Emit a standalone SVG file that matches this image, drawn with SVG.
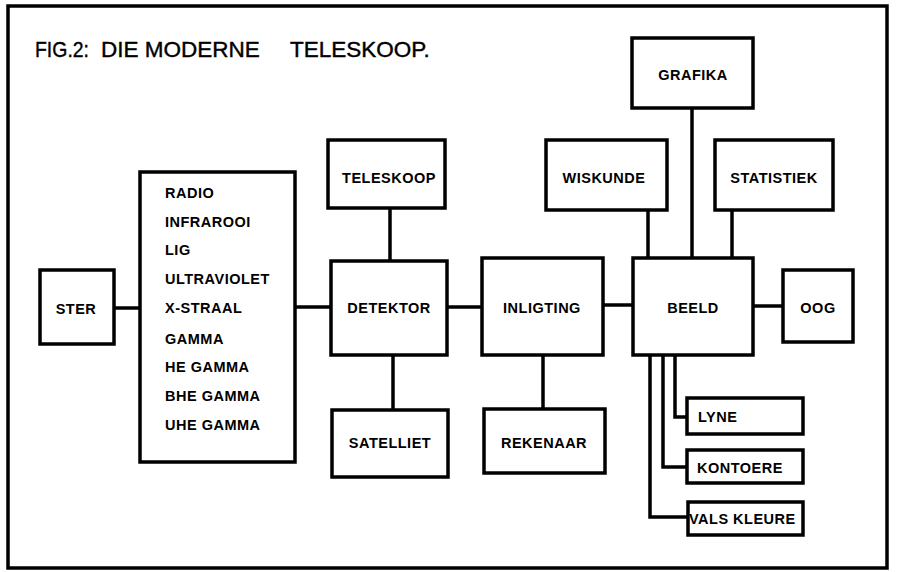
<svg xmlns="http://www.w3.org/2000/svg" width="897" height="572" viewBox="0 0 897 572">
<style>
.box{fill:#fff;stroke:#000;stroke-width:3.5}
.ln{fill:none;stroke:#000;stroke-width:3.5}
.t{font-family:"Liberation Sans",Arial,sans-serif;font-weight:bold;font-size:14.5px;letter-spacing:0.5px;fill:#000}
.c{text-anchor:middle}
.title{font-family:"Liberation Sans",Arial,sans-serif;font-size:22.5px;fill:#000;stroke:#000;stroke-width:0.4}
</style>
<rect x="0" y="0" width="897" height="572" fill="#fff"/>
<rect x="8" y="6" width="879" height="562" fill="none" stroke="#000" stroke-width="3.5"/>
<text class="title" y="57"><tspan x="35" textLength="54" lengthAdjust="spacingAndGlyphs">FIG.2:</tspan><tspan x="101">DIE MODERNE</tspan><tspan x="290">TELESKOOP.</tspan></text>
<g id="connectors">
<line class="ln" x1="114" y1="308" x2="140" y2="308"/>
<line class="ln" x1="295" y1="307" x2="331" y2="307"/>
<line class="ln" x1="390" y1="208" x2="390" y2="261"/>
<line class="ln" x1="393" y1="355" x2="393" y2="410"/>
<line class="ln" x1="447" y1="307" x2="482" y2="307"/>
<line class="ln" x1="543" y1="355" x2="543" y2="409"/>
<line class="ln" x1="603" y1="305" x2="633" y2="305"/>
<line class="ln" x1="753" y1="306" x2="783" y2="306"/>
<line class="ln" x1="648" y1="210" x2="648" y2="258"/>
<line class="ln" x1="692" y1="108" x2="692" y2="258"/>
<line class="ln" x1="732" y1="210" x2="732" y2="258"/>
<polyline class="ln" points="650,355 650,517 688,517"/>
<polyline class="ln" points="663,355 663,467 687,467"/>
<polyline class="ln" points="675,355 675,417 687,417"/>
</g>
<g id="ster"><rect class="box" x="40" y="270" width="74" height="74"/><text class="t c" x="76" y="314">STER</text></g>
<g id="spektrum"><rect class="box" x="140" y="172" width="155" height="290"/>
<text class="t" x="165"><tspan x="165" y="198">RADIO</tspan><tspan x="165" y="227">INFRAROOI</tspan><tspan x="165" y="255">LIG</tspan><tspan x="165" y="284">ULTRAVIOLET</tspan><tspan x="165" y="313">X-STRAAL</tspan><tspan x="165" y="344">GAMMA</tspan><tspan x="165" y="372">HE GAMMA</tspan><tspan x="165" y="401">BHE GAMMA</tspan><tspan x="165" y="430">UHE GAMMA</tspan></text></g>
<g id="teleskoop"><rect class="box" x="328" y="140" width="117" height="68"/><text class="t c" x="389" y="183">TELESKOOP</text></g>
<g id="detektor"><rect class="box" x="331" y="261" width="116" height="94"/><text class="t c" x="389" y="313">DETEKTOR</text></g>
<g id="satelliet"><rect class="box" x="332" y="410" width="116" height="67"/><text class="t c" x="390" y="448">SATELLIET</text></g>
<g id="inligting"><rect class="box" x="482" y="258" width="121" height="97"/><text class="t c" x="542" y="313">INLIGTING</text></g>
<g id="rekenaar"><rect class="box" x="484" y="409" width="121" height="64"/><text class="t c" x="544" y="448">REKENAAR</text></g>
<g id="wiskunde"><rect class="box" x="546" y="140" width="121" height="70"/><text class="t c" x="604" y="183">WISKUNDE</text></g>
<g id="grafika"><rect class="box" x="632" y="38" width="121" height="70"/><text class="t c" x="693" y="80">GRAFIKA</text></g>
<g id="statistiek"><rect class="box" x="715" y="140" width="118" height="70"/><text class="t c" x="774" y="183">STATISTIEK</text></g>
<g id="beeld"><rect class="box" x="633" y="258" width="120" height="97"/><text class="t c" x="693" y="313">BEELD</text></g>
<g id="oog"><rect class="box" x="783" y="270" width="70" height="72"/><text class="t c" x="818" y="313">OOG</text></g>
<g id="lyne"><rect class="box" x="687" y="398" width="116" height="36"/><text class="t" x="698" y="422">LYNE</text></g>
<g id="kontoere"><rect class="box" x="687" y="450" width="116" height="33"/><text class="t" x="697" y="473">KONTOERE</text></g>
<g id="valskleure"><rect class="box" x="688" y="502" width="115" height="33"/><text class="t" x="689" y="524">VALS KLEURE</text></g>
</svg>
